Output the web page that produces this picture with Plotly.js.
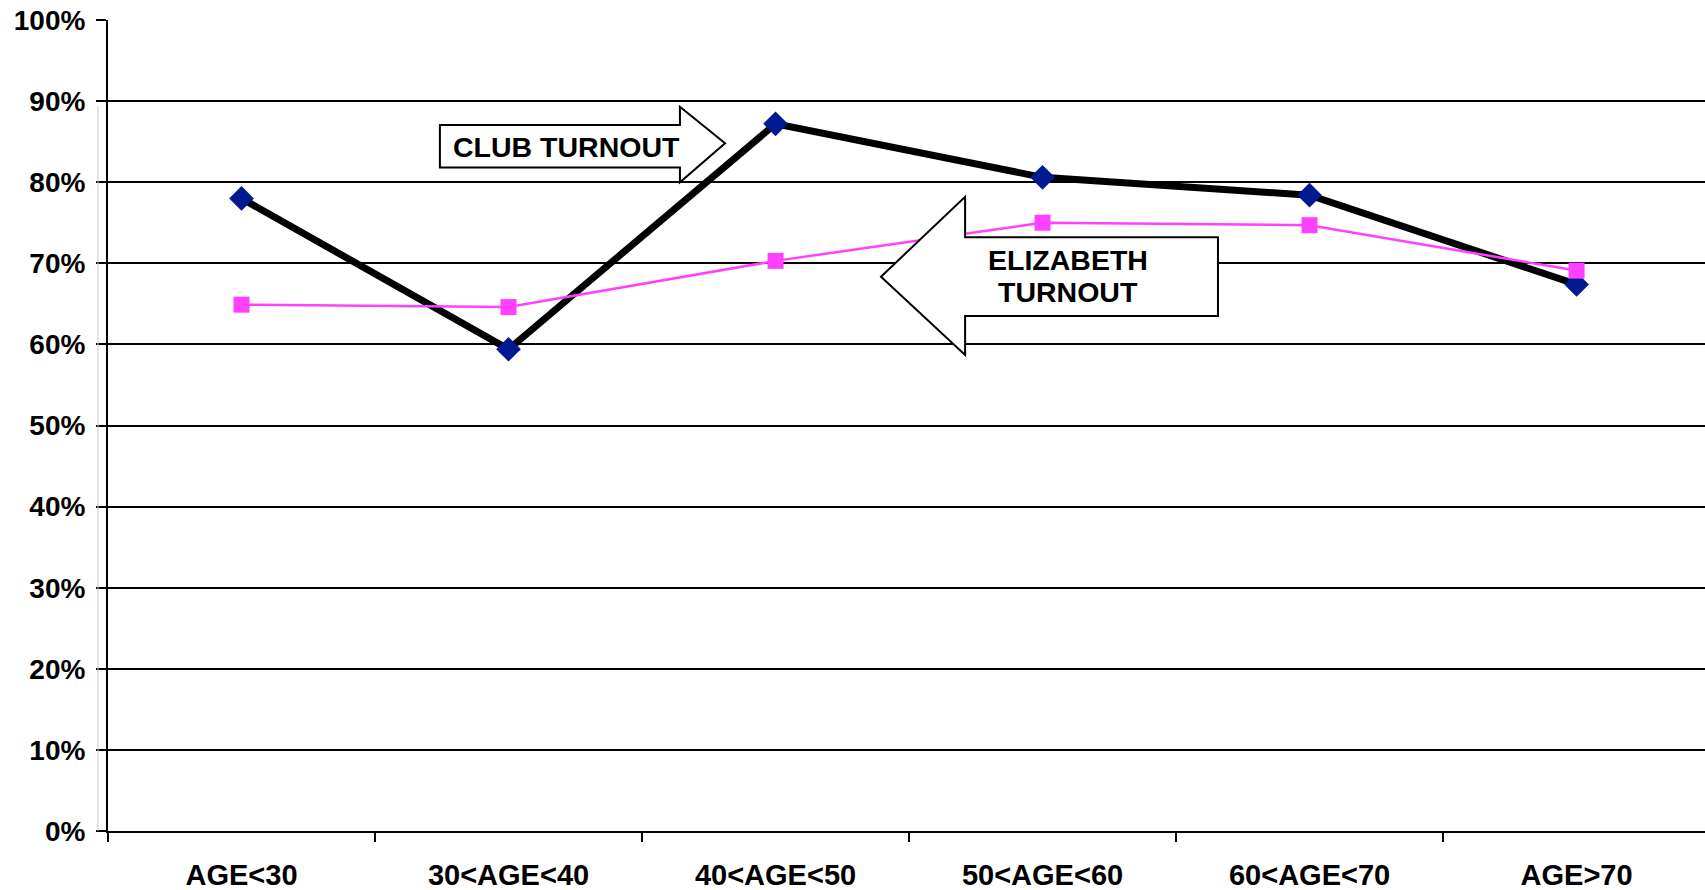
<!DOCTYPE html>
<html>
<head>
<meta charset="utf-8">
<script src="https://cdn.plot.ly/plotly-3.0.1.min.js"></script>
<style>html,body{margin:0;padding:0;background:#fff;overflow:hidden}#chart{width:1705px;height:890px}</style>
</head>
<body>
<div id="chart"></div>
<script>
const categories = ["AGE<30", "30<AGE<40", "40<AGE<50", "50<AGE<60", "60<AGE<70", "AGE>70"];
const clubTurnout = [78.0, 59.4, 87.2, 80.6, 78.4, 67.4];
const elizabethTurnout = [64.9, 64.6, 70.3, 75.0, 74.7, 69.1];
const yTickVals = [0, 10, 20, 30, 40, 50, 60, 70, 80, 90, 100];
const yTickText = ["0%", "10%", "20%", "30%", "40%", "50%", "60%", "70%", "80%", "90%", "100%"];

const FONT = "Liberation Sans, Arial, sans-serif";

const traces = [
  {
    x: categories, y: clubTurnout, type: "scatter", mode: "lines+markers", name: "CLUB TURNOUT",
    line: {color: "#000000", width: 7},
    marker: {symbol: "diamond", size: 19, color: "#001890"}
  },
  {
    x: categories, y: elizabethTurnout, type: "scatter", mode: "lines+markers", name: "ELIZABETH TURNOUT",
    line: {color: "#FF40FF", width: 2.5},
    marker: {symbol: "square", size: 16, color: "#FF40FF"}
  }
];

// arrow callouts in data coordinates (category index, percent)
const clubArrow = "M0.743,87.05 L1.642,87.05 L1.642,89.3 L1.811,84.8 L1.642,80.0 L1.642,81.8 L0.743,81.8 Z";
const elizArrow = "M2.395,68.35 L2.71,78.2 L2.71,73.2 L3.657,73.2 L3.657,63.5 L2.71,63.5 L2.71,58.7 Z";

const annFont = {family: FONT, size: 28.5, color: "#000000", weight: "bold"};

const layout = {
  width: 1705, height: 890,
  margin: {l: 108, r: 0, t: 20, b: 59},
  paper_bgcolor: "#ffffff", plot_bgcolor: "#ffffff",
  showlegend: false,
  font: {family: FONT, size: 28, color: "#000000", weight: "bold"},
  xaxis: {
    type: "category", range: [-0.5, 5.481],
    showgrid: false, zeroline: false,
    showline: true, linecolor: "#000000", linewidth: 2,
    ticks: "outside", tickson: "boundaries", ticklen: 9, tickwidth: 2, tickcolor: "#000000",
    tickfont: {family: FONT, size: 29, color: "#000000", weight: "bold"},
    ticklabelstandoff: 17
  },
  yaxis: {
    range: [0, 100], tickvals: yTickVals, ticktext: yTickText,
    showgrid: true, gridcolor: "#000000", gridwidth: 2, zeroline: false,
    showline: true, linecolor: "#000000", linewidth: 2,
    ticks: "outside", ticklen: 10, tickwidth: 2, tickcolor: "#000000",
    tickfont: {family: FONT, size: 28, color: "#000000", weight: "bold"},
    ticklabelstandoff: 5
  },
  shapes: [
    {type: "line", xref: "paper", yref: "y", x0: -0.0063, x1: -0.0063, y0: 0, y1: 89.4, line: {color: "#c8c8c8", width: 1}, layer: "above"},
    {type: "path", xref: "x", yref: "y", path: clubArrow, fillcolor: "#ffffff", line: {color: "#000000", width: 2}, layer: "above"},
    {type: "path", xref: "x", yref: "y", path: elizArrow, fillcolor: "#ffffff", line: {color: "#000000", width: 2}, layer: "above"}
  ],
  annotations: [
    {x: 1.2175, y: 84.4, xref: "x", yref: "y", text: "CLUB TURNOUT", showarrow: false,
     font: annFont, xanchor: "center", yanchor: "middle"},
    {x: 3.096, y: 70.4, xref: "x", yref: "y", text: "ELIZABETH", showarrow: false,
     font: annFont, xanchor: "center", yanchor: "middle"},
    {x: 3.096, y: 66.5, xref: "x", yref: "y", text: "TURNOUT", showarrow: false,
     font: annFont, xanchor: "center", yanchor: "middle"}
  ]
};

Plotly.newPlot("chart", traces, layout, {displayModeBar: false, staticPlot: true});
</script>
</body>
</html>
